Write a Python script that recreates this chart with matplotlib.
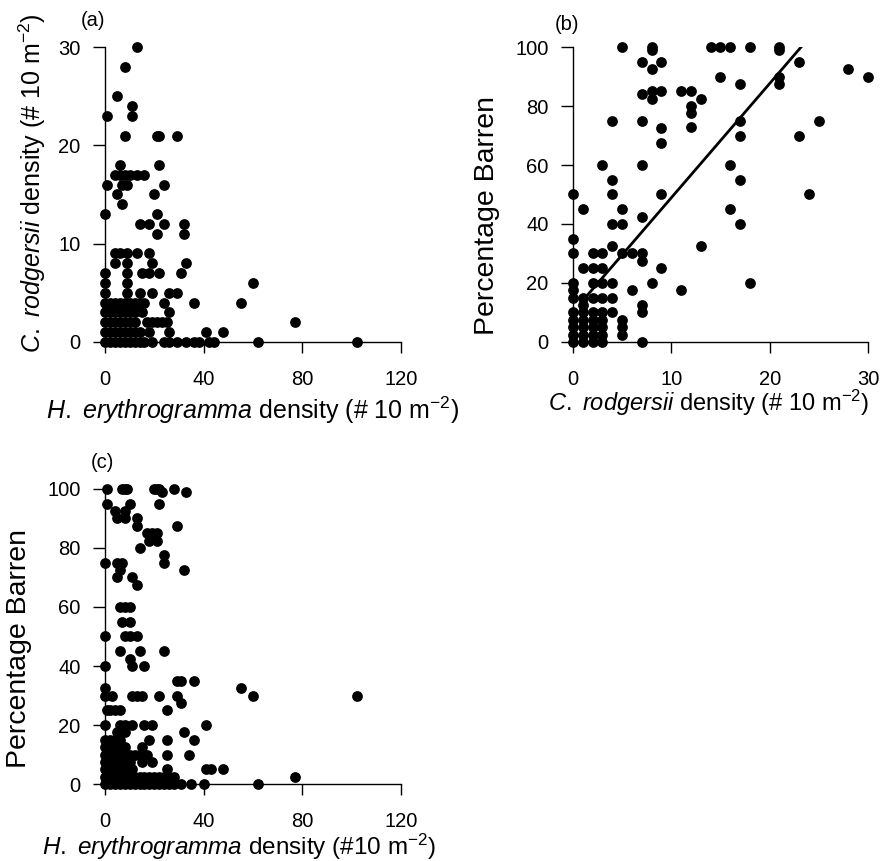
import matplotlib
matplotlib.use("Agg")
import matplotlib.pyplot as plt
import numpy as np

plt.rcParams['font.family'] = ['Liberation Sans', 'DejaVu Sans']
plt.rcParams['mathtext.fontset'] = 'custom'
plt.rcParams['mathtext.rm'] = 'Liberation Sans'
plt.rcParams['mathtext.it'] = 'Liberation Sans:italic'
plt.rcParams['mathtext.bf'] = 'Liberation Sans:bold'

# ---- data ----
# (a) C. rodgersii (y) vs H. erythrogramma (x), points grouped by y level
a_levels = [30, 28, 25, 24, 23, 21, 18, 17, 16, 15, 14, 13, 12, 11, 9, 8, 7, 6, 5, 4, 3, 2, 1, 0]
a_xs = [
    [13], [8], [5], [11], [1, 11], [8, 21, 22, 29], [6, 22],
    [4, 6, 8, 10, 13, 16], [1, 7, 9, 24], [5, 20], [7], [0, 21],
    [14, 18, 24, 32], [21, 32], [4, 6, 9, 13, 18], [4, 9, 19, 33],
    [0, 9, 15, 18, 22, 31], [0, 9, 60], [0, 9, 14, 19, 26, 29],
    [0, 2, 4, 6, 8, 10, 12, 14, 16, 24, 36, 55],
    [0, 2, 4, 6, 8, 10, 12, 15, 26],
    [0, 2, 4, 6, 8, 10, 12, 17, 19, 21, 23, 25, 77],
    [0, 2, 4, 6, 8, 10, 12, 14, 18, 26, 41, 48],
    [0, 2, 4, 6, 8, 10, 12, 14, 16, 19, 24, 26, 29, 33, 36, 38, 42, 44, 62, 102],
]

# (b) percentage barren (y) vs C. rodgersii (x)
b_levels = [100, 99, 95, 92.5, 90, 87.5, 85, 84, 82.5, 80, 77.5, 75, 73, 72.5, 70, 67.5,
            60, 55, 50, 45, 42.5, 40, 35, 32.5, 30, 27.5, 25, 20, 17.5, 15, 12.5, 10,
            7.5, 5, 2.5, 0]
b_xs = [
    [5, 8, 14, 15, 16, 18, 21], [8, 21], [7, 9, 23], [8, 28], [15, 21, 30], [17, 21],
    [8, 9, 11, 12], [7], [8, 13], [12], [12], [4, 7, 17, 25], [12], [9], [17, 23], [9],
    [3, 7, 16], [4, 17], [0, 4, 9, 24], [1, 5, 16], [7], [4, 5, 17], [0], [4, 13],
    [0, 2, 3, 5, 6, 7], [7], [1, 2, 3, 9], [0, 2, 3, 4, 8, 18], [0, 6, 11],
    [0, 1, 2, 3, 4], [1, 7], [0, 1, 2, 3, 4, 7], [0, 1, 2, 3, 5], [0, 1, 2, 3, 5],
    [0, 1, 2, 3, 5], [0, 1, 2, 3, 7],
]
# fitted line in (b)
b_line_x = [1.5, 23.2]
b_line_y = [16, 100]

# (c) percentage barren (y) vs H. erythrogramma (x)
c_levels = [100, 99, 95, 92.5, 90, 87.5, 85, 82.5, 80, 77.5, 75, 72.5, 70, 67.5, 60, 55,
            50, 45, 42.5, 40, 35, 32.5, 30, 27.5, 25, 20, 17.5, 15, 12.5, 10, 7.5, 5, 2.5, 0]
c_xs = [
    [1, 7, 8, 9, 20, 21, 22, 28], [23, 33], [1, 10, 22], [4, 8], [5, 8, 13], [13, 29],
    [17, 19, 21], [18, 21], [14], [24], [0, 5, 7, 24], [6, 32], [5, 11], [13],
    [6, 8, 10], [7, 10], [0, 8, 10, 13], [6, 14, 24], [10], [0, 11, 16], [29, 31, 36],
    [0, 55], [0, 3, 11, 13, 15, 22, 29, 60, 102], [31], [1, 2, 4, 6, 25],
    [0, 6, 8, 11, 16, 19, 41], [5, 8, 32], [0, 2, 4, 6, 18, 25, 36],
    [0, 2, 4, 6, 8, 15], [0, 2, 4, 6, 8, 10, 12, 14, 17, 25, 34],
    [0, 2, 4, 6, 8, 10, 15, 19], [0, 2, 4, 6, 8, 11, 25, 41, 43, 48],
    [0, 2, 4, 6, 8, 10, 12, 14, 16, 18, 20, 22, 24, 26, 28, 77],
    [0, 2, 4, 6, 8, 10, 12, 14, 16, 18, 20, 22, 24, 26, 28, 31, 35, 40, 62],
]

a_ticks_x = [0, 40, 80, 120]
a_ticks_y = [0, 10, 20, 30]
b_ticks_x = [0, 10, 20, 30]
b_ticks_y = [0, 20, 40, 60, 80, 100]
c_ticks_x = [0, 40, 80, 120]
c_ticks_y = [0, 20, 40, 60, 80, 100]


def expand(levels, xs):
    x = []
    y = []
    for lev, row in zip(levels, xs):
        x += row
        y += [lev] * len(row)
    return np.array(x, dtype=float), np.array(y, dtype=float)


def style_axis(ax, xticks, yticks):
    ax.set_xlim(xticks[0], xticks[-1])
    ax.set_ylim(yticks[0], yticks[-1])
    ax.set_xticks(xticks)
    ax.set_yticks(yticks)
    ax.spines['top'].set_visible(False)
    ax.spines['right'].set_visible(False)
    ax.spines['left'].set_linewidth(1.0)
    ax.spines['bottom'].set_linewidth(1.0)
    ax.tick_params(axis='x', direction='out', length=8, width=1.0, labelsize=14.5, pad=12)
    ax.tick_params(axis='y', direction='out', length=8.5, width=1.0, labelsize=14.5, pad=9)


fig = plt.figure(figsize=(8.81, 8.61), dpi=100)

dot = 60

# ---- panel (a) ----
ax_a = fig.add_axes([0.1192, 0.6028, 0.336, 0.3426])
ax, ay = expand(a_levels, a_xs)
ax_a.scatter(ax, ay, s=dot, c='black', linewidths=0, clip_on=False, zorder=3)
style_axis(ax_a, a_ticks_x, a_ticks_y)
ax_a.set_xlabel(r'$\mathit{H.\ erythrogramma}$ density (# 10 m$^{\mathregular{-2}}$)',
                fontsize=18, va='center')
ax_a.xaxis.set_label_coords(0.5, -0.23)
ax_a.set_ylabel(r'$\mathit{C.\ rodgersii}$ density (# 10 m$^{\mathregular{-2}}$)',
                fontsize=18, va='center')
ax_a.yaxis.set_label_coords(-0.2466, 0.539)
ax_a.text(-0.04, 1.09, '(a)', transform=ax_a.transAxes, fontsize=14.5,
          ha='center', va='center')

# ---- panel (b) ----
ax_b = fig.add_axes([0.6504, 0.6028, 0.3348, 0.3426])
bx, by = expand(b_levels, b_xs)
ax_b.scatter(bx, by, s=dot, c='black', linewidths=0, clip_on=False, zorder=3)
ax_b.plot(b_line_x, b_line_y, color='black', lw=2.0, zorder=4)
style_axis(ax_b, b_ticks_x, b_ticks_y)
ax_b.set_xlabel(r'$\mathit{C.\ rodgersii}$ density (# 10 m$^{\mathregular{-2}}$)',
                fontsize=17, va='center')
ax_b.xaxis.set_label_coords(0.458, -0.205)
ax_b.set_ylabel('Percentage Barren', fontsize=20.5, va='center')
ax_b.yaxis.set_label_coords(-0.2915, 0.43)
ax_b.text(-0.02, 1.075, '(b)', transform=ax_b.transAxes, fontsize=14.5,
          ha='center', va='center')

# ---- panel (c) ----
ax_c = fig.add_axes([0.1192, 0.0894, 0.336, 0.3427])
cx, cy = expand(c_levels, c_xs)
ax_c.scatter(cx, cy, s=dot, c='black', linewidths=0, clip_on=False, zorder=3)
style_axis(ax_c, c_ticks_x, c_ticks_y)
ax_c.set_xlabel(r'$\mathit{H.\ erythrogramma}$ density (#10 m$^{\mathregular{-2}}$)',
                fontsize=17.5, va='center')
ax_c.xaxis.set_label_coords(0.453, -0.213)
ax_c.set_ylabel('Percentage Barren', fontsize=20.5, va='center')
ax_c.yaxis.set_label_coords(-0.29, 0.46)
ax_c.text(-0.01, 1.09, '(c)', transform=ax_c.transAxes, fontsize=14.5,
          ha='center', va='center')

fig.savefig('out.png', dpi=100)
